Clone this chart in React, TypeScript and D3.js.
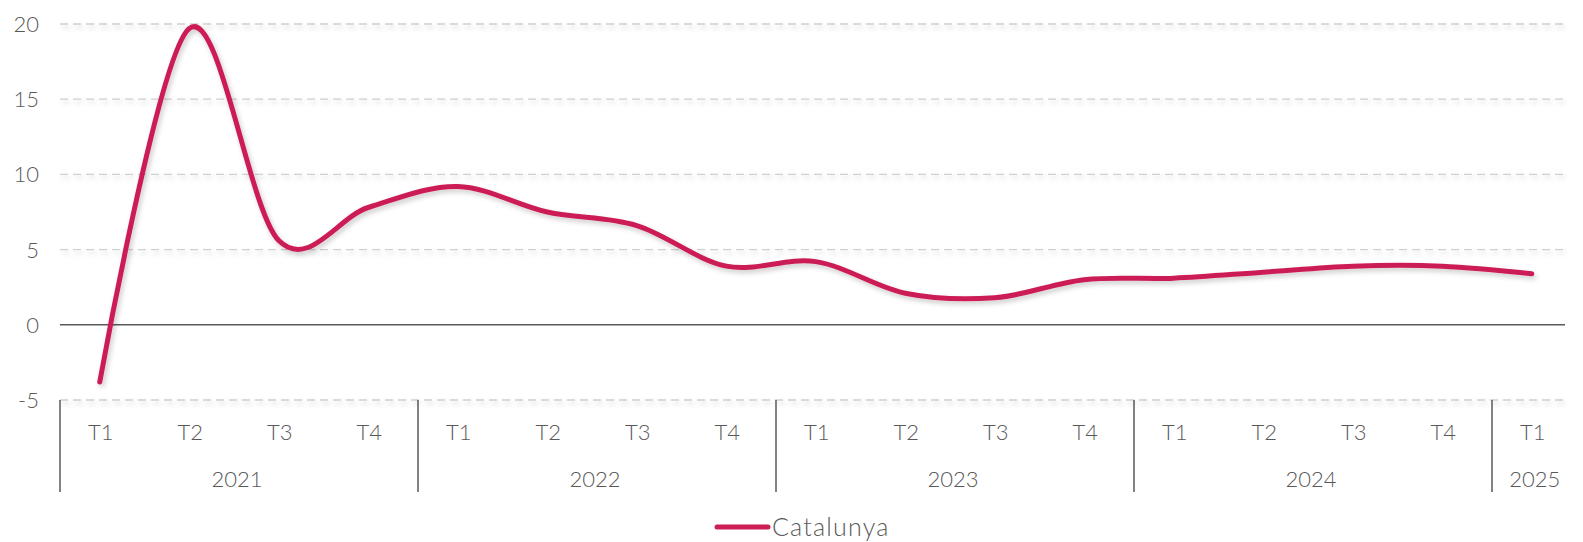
import * as d3 from "d3";
import { useEffect, useRef } from "react";

const years = ["2021", "2022", "2023", "2024", "2025"];
const periods = [
  "2021-T1", "2021-T2", "2021-T3", "2021-T4",
  "2022-T1", "2022-T2", "2022-T3", "2022-T4",
  "2023-T1", "2023-T2", "2023-T3", "2023-T4",
  "2024-T1", "2024-T2", "2024-T3", "2024-T4",
  "2025-T1",
];
const catalunya = [-3.8, 19.7, 5.6, 7.8, 9.2, 7.5, 6.6, 3.9, 4.2, 2.1, 1.8, 3.0, 3.1, 3.5, 3.9, 3.9, 3.4];
const yTicks = [-5, 0, 5, 10, 15, 20];

const W = 1583;
const H = 542;
const FONT = "Lato, 'Noto Sans', sans-serif";
const TEXT = "#595959";
const RED = "#cc1f55";

export default function App() {
  const ref = useRef<SVGSVGElement>(null);

  useEffect(() => {
    document.body.style.margin = "0";
    document.documentElement.style.overflow = "hidden";
    if (!ref.current) return;
    const svg = d3.select(ref.current);
    svg.selectAll("*").remove();

    const left = 60;
    const band = 89.5;

    const x = d3
      .scaleBand<string>()
      .domain(periods)
      .range([left, left + band * periods.length]);
    const y = d3.scaleLinear().domain([-5, 20]).range([400, 24]);

    const defs = svg.append("defs");
    const f = defs
      .append("filter")
      .attr("id", "shadow")
      .attr("filterUnits", "userSpaceOnUse")
      .attr("x", 0)
      .attr("y", 0)
      .attr("width", W)
      .attr("height", H);
    f.append("feDropShadow")
      .attr("dx", 2)
      .attr("dy", 3)
      .attr("stdDeviation", 2.5)
      .attr("flood-color", "#000")
      .attr("flood-opacity", 0.2);

    const gridRight = 1565;

    // gridlines
    svg
      .append("g")
      .selectAll("line")
      .data(yTicks.filter((t) => t !== 0))
      .join("line")
      .attr("x1", left)
      .attr("x2", gridRight)
      .attr("y1", (d) => y(d))
      .attr("y2", (d) => y(d))
      .attr("stroke", "#d0d0d0")
      .attr("stroke-width", 1.3)
      .attr("stroke-dasharray", "8,5")
      .attr("filter", "url(#shadow)");

    // zero line
    svg
      .append("line")
      .attr("x1", left)
      .attr("x2", gridRight)
      .attr("y1", y(0))
      .attr("y2", y(0))
      .attr("stroke", "#595959")
      .attr("stroke-width", 1.5);

    // y labels
    svg
      .append("g")
      .selectAll("text")
      .data(yTicks)
      .join("text")
      .attr("x", 39)
      .attr("y", (d) => y(d))
      .attr("dy", "0.36em")
      .attr("text-anchor", "end")
      .style("font-family", FONT)
      .style("font-size", "22px")
      .style("font-weight", 300)
      .style("fill", TEXT)
      .text((d) => d);

    // year separators
    const seps = years.map((yr) => x(`${yr}-T1`) as number);
    svg
      .append("g")
      .selectAll("line")
      .data(seps)
      .join("line")
      .attr("x1", (d) => d)
      .attr("x2", (d) => d)
      .attr("y1", y(-5))
      .attr("y2", 492)
      .attr("stroke", "#595959")
      .attr("stroke-width", 1.5);

    // quarter labels
    svg
      .append("g")
      .selectAll("text")
      .data(periods)
      .join("text")
      .attr("x", (d) => (x(d) as number) + x.bandwidth() / 2 - 4)
      .attr("y", 440)
      .attr("text-anchor", "middle")
      .style("font-family", FONT)
      .style("font-size", "22px")
      .style("font-weight", 300)
      .style("fill", TEXT)
      .text((d) => d.split("-")[1]);

    // year labels
    svg
      .append("g")
      .selectAll("text")
      .data(years)
      .join("text")
      .attr("x", (yr) => {
        const ps = periods.filter((p) => p.startsWith(yr));
        const a = x(ps[0]) as number;
        const b = (x(ps[ps.length - 1]) as number) + x.bandwidth();
        return ps.length === 1 ? a + x.bandwidth() / 2 - 2 : (a + b) / 2 - 2;
      })
      .attr("y", 487)
      .attr("text-anchor", "middle")
      .style("font-family", FONT)
      .style("font-size", "22px")
      .style("font-weight", 300)
      .style("fill", TEXT)
      .text((d) => d);

    // line
    const line = d3
      .line<number>()
      .x((_, i) => (x(periods[i]) as number) + x.bandwidth() / 2 - 5)
      .y((d) => y(d))
      .curve(d3.curveCatmullRom.alpha(0));

    svg
      .append("path")
      .datum(catalunya)
      .attr("d", line)
      .attr("fill", "none")
      .attr("stroke", RED)
      .attr("stroke-width", 5)
      .attr("stroke-linecap", "round")
      .attr("stroke-linejoin", "round")
      .attr("filter", "url(#shadow)");

    // legend
    const lg = svg.append("g");
    lg.append("line")
      .attr("x1", 717)
      .attr("x2", 768)
      .attr("y1", 527)
      .attr("y2", 527)
      .attr("stroke", RED)
      .attr("stroke-width", 5)
      .attr("stroke-linecap", "round");
    lg.append("text")
      .attr("x", 772)
      .attr("y", 527)
      .attr("dy", "0.36em")
      .style("font-family", FONT)
      .style("font-size", "25px")
      .style("font-weight", 300)
      .style("letter-spacing", "1.2px")
      .style("fill", TEXT)
      .text("Catalunya");
  }, []);

  return (
    <svg
      ref={ref}
      viewBox={`0 0 ${W} ${H}`}
      style={{
        display: "block",
        position: "fixed",
        left: 0,
        top: 0,
        width: "100vw",
        height: "100vh",
        background: "#fff",
      }}
    />
  );
}
